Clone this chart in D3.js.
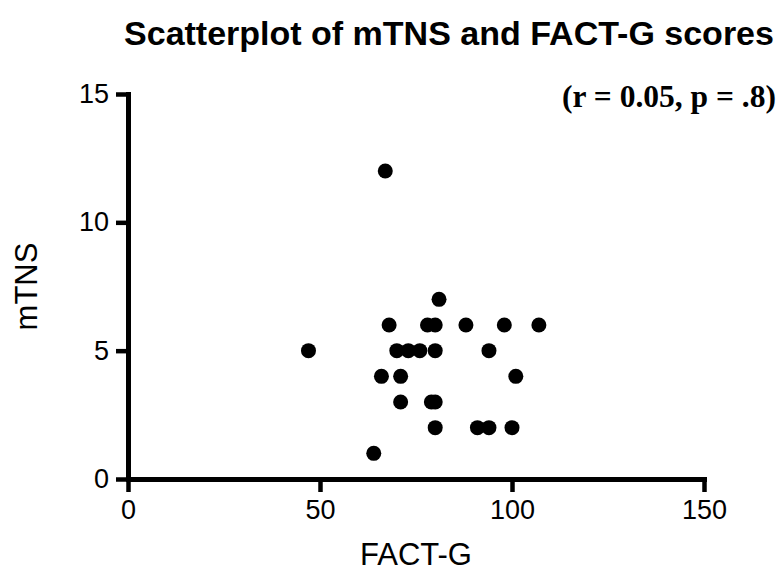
<!DOCTYPE html>
<html>
<head>
<meta charset="utf-8">
<script src="https://cdn.jsdelivr.net/npm/d3@7"></script>
<style>
  body { margin: 0; background: #ffffff; }
  .frame { font-family: "Liberation Sans", Arial, sans-serif; }
</style>
</head>
<body>
<div id="vis"></div>
<script>
// data
const FACT_G = [67, 81, 68, 78, 80, 88, 98, 107, 47, 70, 73, 76, 80, 94,
                66, 71, 101, 71, 79, 80, 80, 91, 94, 100, 64];
const MTNS = [12, 7, 6, 6, 6, 6, 6, 6, 5, 5, 5, 5, 5, 5,
              4, 4, 4, 3, 3, 3, 2, 2, 2, 2, 1];
const X_TICKS = [0, 50, 100, 150];
const Y_TICKS = [0, 5, 10, 15];

// frame constants
const FRAME_HEIGHT = 574;
const FRAME_WIDTH = 781;
const MARGINS = {left: 128, right: 77, top: 94, bottom: 95};

const VIS_HEIGHT = FRAME_HEIGHT - MARGINS.top - MARGINS.bottom;
const VIS_WIDTH = FRAME_WIDTH - MARGINS.left - MARGINS.right;

const FRAME1 = d3.select("#vis")
                  .append("svg")
                    .attr("height", FRAME_HEIGHT)
                    .attr("width", FRAME_WIDTH)
                    .attr("class", "frame");

function build_scatter() {

  const X_SCALE = d3.scaleLinear()
                    .domain([0, 150])
                    .range([0, VIS_WIDTH]);

  const Y_SCALE = d3.scaleLinear()
                    .domain([0, 15])
                    .range([VIS_HEIGHT, 0]);

  // x-axis
  const xAxis = FRAME1.append("g")
        .attr("transform", "translate(" + MARGINS.left + "," + (MARGINS.top + VIS_HEIGHT) + ")")
        .call(d3.axisBottom(X_SCALE).tickValues(X_TICKS).tickSize(13).tickSizeOuter(0).tickPadding(8));

  // y-axis
  const yAxis = FRAME1.append("g")
        .attr("transform", "translate(" + MARGINS.left + "," + MARGINS.top + ")")
        .call(d3.axisLeft(Y_SCALE).tickValues(Y_TICKS).tickSize(12).tickSizeOuter(0).tickPadding(7));

  [xAxis, yAxis].forEach(ax => {
    ax.select(".domain")
        .attr("stroke", "#000")
        .attr("stroke-width", 5)
        .attr("stroke-linecap", "square");
    ax.selectAll(".tick line")
        .attr("stroke", "#000")
        .attr("stroke-width", 4.5);
    ax.selectAll(".tick text")
        .attr("fill", "#000")
        .attr("font-family", "'Liberation Sans', Arial, sans-serif")
        .attr("font-size", "27px");
  });

  // points
  FRAME1.selectAll(".point")
        .data(FACT_G)
        .enter().append("circle")
          .attr("class", "point")
          .attr("cx", d => X_SCALE(d) + MARGINS.left)
          .attr("cy", (d, i) => Y_SCALE(MTNS[i]) + MARGINS.top)
          .attr("r", 7.5)
          .attr("fill", "#000");

  // titles
  FRAME1.append("text")
        .attr("x", 449)
        .attr("y", 45)
        .attr("text-anchor", "middle")
        .attr("font-size", "34px")
        .attr("font-weight", "bold")
        .text("Scatterplot of mTNS and FACT-G scores");

  FRAME1.append("text")
        .attr("x", 776)
        .attr("y", 107)
        .attr("text-anchor", "end")
        .attr("font-family", "'Liberation Serif', 'Times New Roman', serif")
        .attr("font-size", "32px")
        .attr("font-weight", "bold")
        .attr("textLength", 214)
        .attr("lengthAdjust", "spacingAndGlyphs")
        .text("(r = 0.05, p = .8)");

  FRAME1.append("text")
        .attr("x", MARGINS.left + VIS_WIDTH / 2)
        .attr("y", 565)
        .attr("text-anchor", "middle")
        .attr("font-size", "31px")
        .text("FACT-G");

  FRAME1.append("text")
        .attr("transform", "translate(37," + (MARGINS.top + VIS_HEIGHT / 2) + ") rotate(-90)")
        .attr("text-anchor", "middle")
        .attr("font-size", "31px")
        .text("mTNS");
}

build_scatter();
</script>
</body>
</html>
